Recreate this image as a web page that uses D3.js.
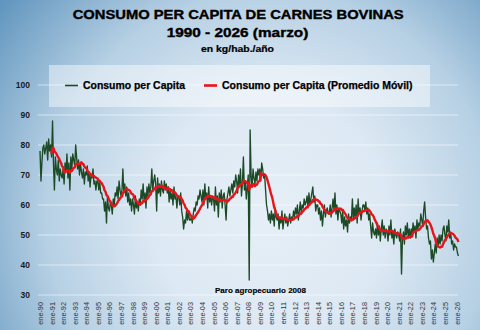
<!DOCTYPE html>
<html>
<head>
<meta charset="utf-8">
<script src="https://cdn.jsdelivr.net/npm/d3@7"></script>
<style>
  html, body { margin: 0; padding: 0; background: #fff; }
  svg { display: block; }
  text { font-family: Arial, "Liberation Sans", sans-serif; }
</style>
</head>
<body>
<svg id="chart" width="480" height="330"></svg>
<script>
// ---- Data (kg/hab./año, mensual, ene-1990 .. mar-2026) ----
const startYear = 1990;
const consumoMensual = [
  78, 68, 74, 79, 80, 77, 79, 81, 75, 82, 78, 80,   // 1990
  76, 88, 74, 65, 76, 72, 70, 75, 68, 72, 70, 69,   // 1991
  72, 67, 74, 71, 77, 69, 74, 65, 76, 72, 77, 75,   // 1992
  73, 80, 76, 72, 75, 70, 74, 71, 69, 72, 67, 71,   // 1993
  70, 73, 68, 71, 66, 70, 69, 72, 67, 68, 65, 68,   // 1994
  68, 65, 68, 64, 64, 62, 62, 58, 61, 54, 63, 59,   // 1995
  58, 61, 60, 57, 62, 60, 64, 63, 66, 62, 68, 65,   // 1996
  63, 65, 72, 64, 67, 63, 66, 61, 64, 60, 62, 58,   // 1997
  62, 60, 57, 63, 59, 61, 58, 62, 60, 65, 62, 67,   // 1998
  61, 64, 59, 66, 63, 67, 64, 66, 72, 65, 68, 70,   // 1999
  67, 58, 69, 64, 67, 63, 68, 65, 64, 68, 65, 67,   // 2000
  64, 66, 61, 65, 62, 64, 60, 66, 62, 63, 59, 63,   // 2001
  63, 60, 64, 58, 56, 52, 55, 54, 58, 55, 58, 55,   // 2002
  55, 56, 54, 57, 59, 58, 61, 60, 63, 62, 65, 63,   // 2003
  61, 65, 60, 67, 62, 64, 59, 66, 61, 63, 60, 63,   // 2004
  62, 58, 66, 60, 63, 56, 64, 61, 65, 59, 63, 64,   // 2005
  60, 55, 62, 64, 66, 63, 65, 67, 64, 68, 66, 70,   // 2006
  68, 64, 70, 66, 72, 63, 67, 76, 65, 68, 62, 66,   // 2007
  70, 35, 85, 70, 66, 72, 69, 67, 71, 68, 72, 70,   // 2008
  72, 68, 74, 72, 69, 70, 65, 60, 58, 55, 57, 54,   // 2009
  58, 55, 57, 53, 59, 56, 55, 57, 52, 56, 54, 58,   // 2010
  52, 55, 57, 54, 56, 53, 55, 57, 54, 56, 55, 58,   // 2011
  56, 59, 57, 60, 55, 58, 61, 57, 60, 59, 62, 60,   // 2012
  61, 63, 59, 64, 60, 62, 64, 66, 61, 63, 58, 60,   // 2013
  60, 57, 59, 55, 58, 53, 57, 60, 56, 58, 59, 57,   // 2014
  57, 60, 56, 59, 62, 58, 64, 57, 60, 55, 59, 58,   // 2015
  57, 54, 58, 52, 56, 53, 55, 51, 57, 54, 56, 55,   // 2016
  62, 55, 59, 56, 60, 54, 62, 57, 59, 55, 58, 60,   // 2017
  60, 58, 61, 57, 59, 55, 57, 53, 49, 54, 51, 50,   // 2018
  52, 49, 54, 50, 53, 48, 52, 55, 50, 53, 49, 52,   // 2019
  51, 48, 53, 50, 55, 49, 51, 47, 52, 50, 49, 51,   // 2020
  50, 48, 52, 37, 49, 51, 47, 53, 50, 54, 49, 52,   // 2021
  49, 52, 50, 54, 51, 53, 49, 55, 52, 54, 53, 57,   // 2022
  55, 53, 58, 61, 56, 52, 53, 49, 47, 48, 42, 45,   // 2023
  41, 44, 47, 44, 49, 46, 50, 47, 50, 48, 52, 53,   // 2024
  50, 48, 53, 51, 55, 49, 51, 47, 48, 45, 47, 46,   // 2025
  46, 44, 43                                        // 2026 (ene-mar)
];
const yTicks = [30, 40, 50, 60, 70, 80, 90, 100];
const xTickYears = d3.range(1990, 2027);
const monthAbbr = "ene";
const seriesNames = ["Consumo per Capita", "Consumo per Capita (Promedio Móvil)"];
const titleLines = ["CONSUMO PER CAPITA DE CARNES BOVINAS", "1990 - 2026 (marzo)", "en kg/hab./año"];
const annotation = "Paro agropecuario 2008";

// ---- Derived tables ----
const serie = consumoMensual.map((v, i) => ({ date: new Date(Date.UTC(startYear, i, 1)), v }));
const movil = serie.map((d, i) => ({
  date: d.date,
  v: i < 11 ? null : d3.mean(consumoMensual.slice(i - 11, i + 1))
}));

// ---- Drawing ----
const W = 480, H = 330;
const svg = d3.select("#chart");
const defs = svg.append("defs");
const grad = defs.append("radialGradient").attr("id", "bg")
  .attr("gradientUnits", "userSpaceOnUse")
  .attr("cx", 270).attr("cy", 215).attr("r", 345);
grad.append("stop").attr("offset", "0").attr("stop-color", "#e6eff7");
grad.append("stop").attr("offset", "0.35").attr("stop-color", "#dce8f3");
grad.append("stop").attr("offset", "0.65").attr("stop-color", "#b6d0e4");
grad.append("stop").attr("offset", "1").attr("stop-color", "#5f94bd");
svg.append("rect").attr("width", W).attr("height", H).attr("fill", "url(#bg)");

const x = d3.scaleUtc()
  .domain([new Date(Date.UTC(1990, 0, 1)), new Date(Date.UTC(2026, 0, 1))])
  .range([40, 456.5]);
const y = d3.scaleLinear().domain([30, 100]).range([295, 85]);

// gridlines
svg.append("g").selectAll("line").data(yTicks).join("line")
  .attr("x1", 38).attr("x2", 458)
  .attr("y1", d => y(d)).attr("y2", d => y(d))
  .attr("stroke", "#ffffff").attr("stroke-opacity", 0.55).attr("stroke-width", 1);

// legend box
svg.append("rect").attr("x", 49).attr("y", 65).attr("width", 381).attr("height", 42)
  .attr("fill", "#ffffff").attr("fill-opacity", 0.45);

// y axis
const yAxis = d3.axisLeft(y).tickValues(yTicks).tickSize(0).tickPadding(0);
const gy = svg.append("g").attr("transform", "translate(30,0)").call(yAxis);
gy.select(".domain").remove();
gy.selectAll("text").attr("font-size", 8.5).attr("font-weight", "bold")
  .attr("fill", "#1a1a1a").attr("font-family", "Arial, 'Liberation Sans', sans-serif");

// x axis
const xTicks = xTickYears.map(yr => new Date(Date.UTC(yr, 0, 1)));
const xAxis = d3.axisBottom(x).tickValues(xTicks).tickSize(0)
  .tickFormat(d => monthAbbr + "-" + String(d.getUTCFullYear()).slice(2));
const gx = svg.append("g").attr("transform", "translate(0,300)").call(xAxis);
gx.select(".domain").remove();
gx.selectAll("text")
  .attr("font-size", 7.3).attr("fill", "#333")
  .attr("font-family", "Arial, 'Liberation Sans', sans-serif")
  .attr("text-anchor", "end")
  .attr("transform", "rotate(-90)")
  .attr("x", -2).attr("y", 0).attr("dy", "0.35em");

// lines
const lineGen = d3.line().defined(d => d.v != null).x(d => x(d.date)).y(d => y(d.v));
svg.append("path").datum(serie).attr("d", lineGen)
  .attr("fill", "none").attr("stroke", "#1c4a26").attr("stroke-width", 1.35)
  .attr("stroke-linejoin", "round");
svg.append("path").datum(movil).attr("d", lineGen.curve(d3.curveMonotoneX))
  .attr("fill", "none").attr("stroke", "#e8141b").attr("stroke-width", 2.4)
  .attr("stroke-linejoin", "round");

// helper for heavy text
function heavy(sel, w) {
  return sel.attr("font-weight", "bold").attr("fill", "#000")
    .attr("stroke", "#000").attr("stroke-width", w).attr("paint-order", "stroke");
}

// legend items
const legend = svg.append("g");
legend.append("line").attr("x1", 65).attr("x2", 78).attr("y1", 85.5).attr("y2", 85.5)
  .attr("stroke", "#1c4a26").attr("stroke-width", 1.6);
heavy(legend.append("text").attr("x", 83).attr("y", 89).text(seriesNames[0])
  .attr("font-size", 10).attr("textLength", 102).attr("lengthAdjust", "spacingAndGlyphs"), 0.25);
legend.append("line").attr("x1", 204).attr("x2", 217).attr("y1", 85.5).attr("y2", 85.5)
  .attr("stroke", "#e8141b").attr("stroke-width", 2.6);
heavy(legend.append("text").attr("x", 222).attr("y", 89).text(seriesNames[1])
  .attr("font-size", 10).attr("textLength", 190.5).attr("lengthAdjust", "spacingAndGlyphs"), 0.25);

// titles
heavy(svg.append("text").attr("x", 72.7).attr("y", 19.2)
  .attr("font-size", 13.5).attr("textLength", 331).attr("lengthAdjust", "spacingAndGlyphs")
  .text(titleLines[0]), 0.4);
heavy(svg.append("text").attr("x", 166.7).attr("y", 37)
  .attr("font-size", 13).attr("textLength", 141.6).attr("lengthAdjust", "spacingAndGlyphs")
  .text(titleLines[1]), 0.4);
heavy(svg.append("text").attr("x", 201).attr("y", 51.6)
  .attr("font-size", 8.4).attr("textLength", 73).attr("lengthAdjust", "spacingAndGlyphs")
  .text(titleLines[2]), 0.2);

// annotation
heavy(svg.append("text").attr("x", 215).attr("y", 293.3)
  .attr("font-size", 8).attr("textLength", 91).attr("lengthAdjust", "spacingAndGlyphs")
  .text(annotation), 0.15);
</script>
</body>
</html>
